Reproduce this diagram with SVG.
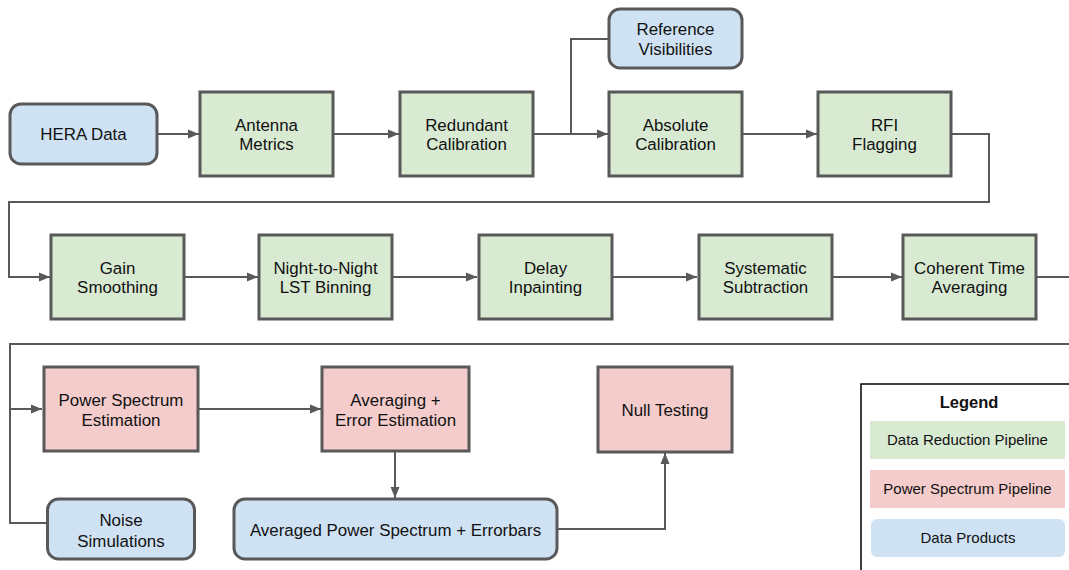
<svg xmlns="http://www.w3.org/2000/svg" width="1069" height="570" viewBox="0 0 1069 570">
  <style>
    .node { stroke: #595959; stroke-width: 3; }
    .proc { fill: #d9ead3; }
    .ps { fill: #f4cccc; }
    .data { fill: #cfe2f3; }
    .lbl { font-family: "Liberation Sans", Arial, sans-serif; font-size: 16.9px; fill: #111; text-anchor: middle; }
    .leg { font-family: "Liberation Sans", Arial, sans-serif; font-size: 15px; fill: #111; text-anchor: middle; }
    .edge { fill: none; stroke: #595959; stroke-width: 2; }
  </style>
  <defs>
    <marker id="arrow" markerUnits="userSpaceOnUse" markerWidth="12" markerHeight="10" refX="11" refY="5" orient="auto">
      <path d="M0,0.5 L11,5 L0,9.5 z" fill="#595959"/>
    </marker>
  </defs>
  <rect width="1069" height="570" fill="#ffffff"/>

  <!-- connectors -->
  <g id="connectors">
    <path class="edge" d="M157,134 H199" marker-end="url(#arrow)"/>
    <path class="edge" d="M333,134 H399" marker-end="url(#arrow)"/>
    <path class="edge" d="M533,134 H608" marker-end="url(#arrow)"/>
    <path class="edge" d="M609,39 H571 V134"/>
    <path class="edge" d="M742,134 H817" marker-end="url(#arrow)"/>
    <path class="edge" d="M951,134 H989 V202 H9 V277 H50" marker-end="url(#arrow)"/>
    <path class="edge" d="M184,277 H258" marker-end="url(#arrow)"/>
    <path class="edge" d="M392,277 H477" marker-end="url(#arrow)"/>
    <path class="edge" d="M612,277 H697" marker-end="url(#arrow)"/>
    <path class="edge" d="M832,277 H902" marker-end="url(#arrow)"/>
    <path class="edge" d="M1036,277 H1085 V344 H10 V409 H42" marker-end="url(#arrow)"/>
    <path class="edge" d="M47,523 H10 V409"/>
    <path class="edge" d="M198,409 H321" marker-end="url(#arrow)"/>
    <path class="edge" d="M395,451 V498" marker-end="url(#arrow)"/>
    <path class="edge" d="M557,529 H665 V453" marker-end="url(#arrow)"/>
  </g>

  <!-- row 1 -->
  <g id="hera-data">
    <rect class="node data" x="10" y="104" width="147" height="60" rx="11"/>
    <text class="lbl" x="83.5" y="140">HERA Data</text>
  </g>
  <g id="antenna-metrics">
    <rect class="node proc" x="200" y="92" width="133" height="84"/>
    <text class="lbl" x="266.5" y="130.5">Antenna</text>
    <text class="lbl" x="266.5" y="150">Metrics</text>
  </g>
  <g id="redundant-calibration">
    <rect class="node proc" x="400" y="92" width="133" height="84"/>
    <text class="lbl" x="466.5" y="130.5">Redundant</text>
    <text class="lbl" x="466.5" y="150">Calibration</text>
  </g>
  <g id="reference-visibilities">
    <rect class="node data" x="609" y="9" width="133" height="59" rx="11"/>
    <text class="lbl" x="675.5" y="35">Reference</text>
    <text class="lbl" x="675.5" y="55">Visibilities</text>
  </g>
  <g id="absolute-calibration">
    <rect class="node proc" x="609" y="92" width="133" height="84"/>
    <text class="lbl" x="675.5" y="130.5">Absolute</text>
    <text class="lbl" x="675.5" y="150">Calibration</text>
  </g>
  <g id="rfi-flagging">
    <rect class="node proc" x="818" y="92" width="133" height="84"/>
    <text class="lbl" x="884.5" y="130.5">RFI</text>
    <text class="lbl" x="884.5" y="150">Flagging</text>
  </g>

  <!-- row 2 -->
  <g id="gain-smoothing">
    <rect class="node proc" x="51" y="235" width="133" height="84"/>
    <text class="lbl" x="117.5" y="273.5">Gain</text>
    <text class="lbl" x="117.5" y="293">Smoothing</text>
  </g>
  <g id="lst-binning">
    <rect class="node proc" x="259" y="235" width="133" height="84"/>
    <text class="lbl" x="325.5" y="273.5">Night-to-Night</text>
    <text class="lbl" x="325.5" y="293">LST Binning</text>
  </g>
  <g id="delay-inpainting">
    <rect class="node proc" x="479" y="235" width="133" height="84"/>
    <text class="lbl" x="545.5" y="273.5">Delay</text>
    <text class="lbl" x="545.5" y="293">Inpainting</text>
  </g>
  <g id="systematic-subtraction">
    <rect class="node proc" x="699" y="235" width="133" height="84"/>
    <text class="lbl" x="765.5" y="273.5">Systematic</text>
    <text class="lbl" x="765.5" y="293">Subtraction</text>
  </g>
  <g id="coherent-time-averaging">
    <rect class="node proc" x="903" y="235" width="133" height="84"/>
    <text class="lbl" x="969.5" y="273.5">Coherent Time</text>
    <text class="lbl" x="969.5" y="293">Averaging</text>
  </g>

  <!-- row 3 -->
  <g id="power-spectrum-estimation">
    <rect class="node ps" x="44" y="367" width="154" height="84"/>
    <text class="lbl" x="121" y="405.5">Power Spectrum</text>
    <text class="lbl" x="121" y="426">Estimation</text>
  </g>
  <g id="averaging-error-estimation">
    <rect class="node ps" x="322" y="367" width="147" height="84"/>
    <text class="lbl" x="395.5" y="405.5">Averaging +</text>
    <text class="lbl" x="395.5" y="426">Error Estimation</text>
  </g>
  <g id="null-testing">
    <rect class="node ps" x="598" y="367" width="134" height="85"/>
    <text class="lbl" x="665" y="416">Null Testing</text>
  </g>
  <g id="noise-simulations">
    <rect class="node data" x="47.5" y="499" width="147" height="60" rx="11"/>
    <text class="lbl" x="121" y="526">Noise</text>
    <text class="lbl" x="121" y="546.5">Simulations</text>
  </g>
  <g id="averaged-power-spectrum">
    <rect class="node data" x="234" y="499" width="323" height="60" rx="11"/>
    <text class="lbl" x="395.5" y="536">Averaged Power Spectrum + Errorbars</text>
  </g>

  <!-- legend -->
  <g id="legend">
    <rect x="861" y="384" width="260" height="220" fill="#ffffff" stroke="#000000" stroke-width="1.5"/>
    <text x="969" y="408" font-family="'Liberation Sans', Arial, sans-serif" font-size="16.5" font-weight="bold" text-anchor="middle" fill="#111">Legend</text>
    <rect x="870" y="421" width="195" height="38" fill="#d9ead3"/>
    <text class="leg" x="967.5" y="445">Data Reduction Pipeline</text>
    <rect x="870" y="470" width="195" height="38" fill="#f4cccc"/>
    <text class="leg" x="967.5" y="494">Power Spectrum Pipeline</text>
    <rect x="871" y="519" width="194" height="38" rx="6" fill="#cfe2f3"/>
    <text class="leg" x="968" y="543">Data Products</text>
  </g>
</svg>
